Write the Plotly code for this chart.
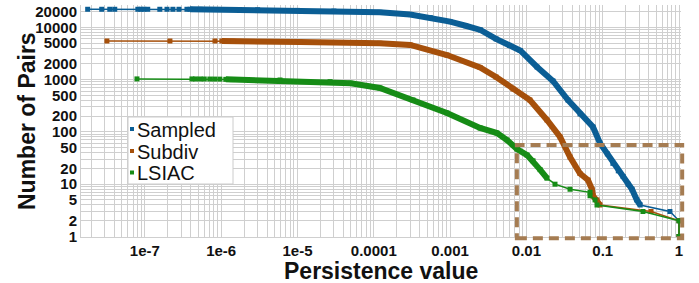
import math
import plotly.graph_objects as go

# ---------------- data ----------------
sampled_x = [1.78e-8, 2.72e-8, 3.47e-8, 4.03e-8, 8.09e-8, 8.86e-8, 9.70e-8, 1.09e-7,
             1.57e-7, 1.95e-7, 2.33e-7, 2.80e-7, 3.56e-7, 3.90e-7,
             5.3e-7, 1e-6, 3e-6, 1e-5, 3e-5, 1.2e-4, 3e-4, 5.5e-4, 1e-3, 1.6e-3, 2.5e-3,
             4e-3, 6e-3, 8.3e-3, 0.0138, 0.0223, 0.0351, 0.0504, 0.0746, 0.092, 0.115,
             0.136, 0.16, 0.185, 0.215, 0.242, 0.28, 0.31,
             0.76, 1.0, 1.0]
sampled_y = [22100, 22099, 22098, 22097, 22096, 22095, 22094, 22093,
             22092, 22091, 22090, 22089, 22088, 22087,
             22000, 21900, 21600, 21000, 20400, 19300, 17500, 15300, 12800, 10700, 8900,
             6000, 4500, 3600, 1740, 940, 406, 220, 124, 61, 38,
             25, 18, 14, 10, 8, 5, 4,
             3, 2, 1]
sampled_dense = (13, 41)

subdiv_x = [3.18e-8, 2.13e-7, 8.3e-7, 1.02e-6,
            1.43e-6, 1.08e-5, 1.2e-4, 3e-4, 9.1e-4, 2.47e-3, 4e-3, 6.67e-3, 0.0111,
            0.0186, 0.0276, 0.0373, 0.0504, 0.0642, 0.0724, 0.0746, 0.0842, 0.0922,
            0.43, 1.0, 1.0]
subdiv_y = [5470, 5469, 5468, 5467,
            5400, 5240, 4940, 4590, 2950, 1700, 1120, 662, 407,
            169, 80, 33, 16, 12, 8, 6, 5, 4,
            3, 2, 1]
subdiv_dense = (3, 21)

lsiac_x = [7.88e-8, 4.14e-7, 4.6e-7, 5.3e-7, 6.0e-7, 7.1e-7, 8.2e-7, 9.6e-7, 1.15e-6,
           1.39e-6, 5.9e-6, 2.67e-5, 5e-5, 1.2e-4, 3.26e-4, 9.1e-4, 2.47e-3, 4.12e-3,
           5.57e-3, 7.53e-3, 0.0102, 0.0122, 0.0151, 0.0186,
           0.0237, 0.0373, 0.0682, 0.0682, 0.0794, 0.0842, 0.337, 1.0, 1.0]
lsiac_y = [1030, 1029, 1028, 1027, 1026, 1024, 1022, 1020, 1010,
           1000, 982, 912, 850, 691, 407, 230, 119, 95,
           70, 47, 36, 28, 19, 13,
           10, 8, 7, 6, 5, 4, 3, 2, 1]
lsiac_dense = (8, 23)

series_names = ["Sampled", "Subdiv", "LSIAC"]
series_colors = ["#0b5e95", "#a6500b", "#168c16"]

x_tickvals = [1e-7, 1e-6, 1e-5, 1e-4, 1e-3, 1e-2, 1e-1, 1]
x_ticktext = ["1e-7", "1e-6", "1e-5", "0.0001", "0.001", "0.01", "0.1", "1"]
y_tickvals = [1, 2, 5, 10, 20, 50, 100, 200, 500, 1000, 2000, 5000, 10000, 20000]
y_ticktext = [str(v) for v in y_tickvals]

x_title = "Persistence value"
y_title = "Number of Pairs"

zoom_box_x = [0.0075, 1.1]
zoom_box_y = [0.93, 56]

# ---------------- layout constants ----------------
X_RANGE = [-7.837, 0.026]
Y_RANGE = [-0.01, 4.426]
W, H = 699, 283
ML, MR, MT, MB = 81, 18, 5, 46
PW, PH = W - ML - MR, H - MT - MB


def xdom(v):
    return (math.log10(v) - X_RANGE[0]) / (X_RANGE[1] - X_RANGE[0])


def ydom(v):
    return (math.log10(v) - Y_RANGE[0]) / (Y_RANGE[1] - Y_RANGE[0])


def px_x(p):
    return (p - ML) / PW


def px_y(p):
    return (H - MB - p) / PH


# ---------------- figure ----------------
fig = go.Figure()
data = [(sampled_x, sampled_y, sampled_dense),
        (subdiv_x, subdiv_y, subdiv_dense),
        (lsiac_x, lsiac_y, lsiac_dense)]

for (xs, ys, (i0, i1)), name, col in zip(data, series_names, series_colors):
    fig.add_trace(go.Scatter(x=xs[i0:i1 + 1], y=ys[i0:i1 + 1], mode="lines",
                             line=dict(color=col, width=6), showlegend=False,
                             hoverinfo="skip"))
    fig.add_trace(go.Scatter(x=xs, y=ys, mode="lines+markers", name=name,
                             line=dict(color=col, width=1.5),
                             marker=dict(symbol="square", size=5, color=col),
                             showlegend=False))

# dashed zoom box (domain refs so it is not clipped at the plot edge)
fig.add_shape(type="rect", xref="x domain", yref="y domain",
              x0=xdom(zoom_box_x[0]), x1=xdom(zoom_box_x[1]),
              y0=ydom(zoom_box_y[0]), y1=ydom(zoom_box_y[1]),
              line=dict(color="#a57c52", width=4, dash="10px,6px"), layer="above")

# legend (box, markers, labels)
fig.add_shape(type="rect", xref="paper", yref="paper",
              x0=px_x(128), x1=px_x(233), y0=px_y(184), y1=px_y(117),
              fillcolor="white", line=dict(color="#cccccc", width=1), layer="above")
row_y = [128, 150, 171.5]
for name, col, ry in zip(series_names, series_colors, row_y):
    fig.add_shape(type="rect", xref="paper", yref="paper",
                  x0=px_x(130), x1=px_x(134), y0=px_y(ry + 3), y1=px_y(ry - 1),
                  fillcolor=col, line=dict(width=0), layer="above")
    fig.add_annotation(xref="paper", yref="paper", x=px_x(135), y=px_y(ry + 1.5),
                       xanchor="left", yanchor="middle", showarrow=False, text=name,
                       font=dict(family="Liberation Sans", size=20, color="#111111"))

grid_col = "#cfcfcf"
tickfont = dict(family="Liberation Sans", size=15, color="#111111", weight="bold")
titlefont = dict(family="Liberation Sans", size=23, color="#111111", weight="bold")

# y axis title placed as rotated text
fig.add_annotation(xref="paper", yref="paper", x=px_x(27), y=0.5,
                   xanchor="center", yanchor="middle", textangle=-90,
                   showarrow=False, text=y_title, font=titlefont)
# x axis title
fig.add_annotation(xref="paper", yref="paper", x=0.5, y=px_y(270.5),
                   xanchor="center", yanchor="middle",
                   showarrow=False, text=x_title, font=titlefont)

fig.update_xaxes(type="log", range=X_RANGE,
                 tickvals=x_tickvals, ticktext=x_ticktext, tickfont=tickfont,
                 showgrid=True, gridcolor=grid_col, gridwidth=1,
                 minor=dict(dtick="D1", showgrid=True, gridcolor=grid_col, gridwidth=1),
                 showline=True, linecolor=grid_col, linewidth=1, zeroline=False,
                 ticks="")
fig.update_yaxes(type="log", range=Y_RANGE,
                 tickvals=y_tickvals, ticktext=y_ticktext, tickfont=tickfont,
                 showgrid=True, gridcolor=grid_col, gridwidth=1,
                 minor=dict(dtick="D1", showgrid=True, gridcolor=grid_col, gridwidth=1),
                 showline=True, linecolor=grid_col, linewidth=1, zeroline=False,
                 ticks="")

fig.update_layout(
    width=W, height=H,
    margin=dict(l=ML, r=MR, t=MT, b=MB, autoexpand=False),
    paper_bgcolor="white", plot_bgcolor="white",
    showlegend=False,
)

fig.write_html("out.html", config={"displayModeBar": False},
               post_script="document.body.style.margin='0px';")
